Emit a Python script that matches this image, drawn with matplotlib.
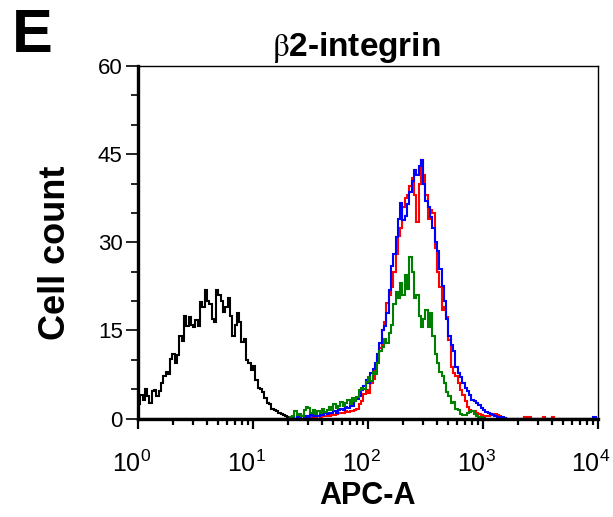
import numpy as np
import matplotlib
matplotlib.use("Agg")
import matplotlib.pyplot as plt
import matplotlib.transforms as mtransforms
from matplotlib.ticker import MultipleLocator, LogLocator, NullFormatter

plt.rcParams['font.family'] = ['Liberation Sans', 'DejaVu Sans']
plt.rcParams['mathtext.fontset'] = 'stix'

# 通道: 0.02 decade 一个 bin, 10^0 ~ 10^4
n_bins = 200
edges = np.logspace(0, 4, n_bins + 1)

# 各组计数 (从 bin 起点开始)
isotype_start = 0
isotype_counts = [2.5, 4.0, 3.2, 5.0, 3.8, 2.6, 4.6, 4.9, 3.8, 4.6,
                  6.0, 7.2, 8.0, 7.6, 10.2, 11.0, 9.5, 10.8, 14.0, 13.2,
                  17.5, 15.8, 17.2, 16.0, 15.5, 16.8, 15.8, 19.8, 19.0, 21.8,
                  20.0, 19.5, 17.0, 16.5, 21.8, 21.0, 20.0, 18.2, 19.0, 20.5,
                  17.5, 14.0, 16.0, 18.0, 16.5, 13.0, 13.5, 10.0, 9.5, 8.3,
                  9.0, 6.5, 5.2, 5.0, 4.5, 3.5, 2.6, 2.4, 1.6, 1.4,
                  1.2, 0.9, 0.8, 0.6, 0.5, 0.3, 0.1, 0.3, 0.0]

green_start = 66
green_counts = [0.3, 0.5, 1.2, 0.6, 0.8, 0.5, 1.5, 2.0, 1.8, 1.0,
                1.4, 0.8, 1.2, 0.9, 1.6, 1.1, 1.4, 2.0, 1.5, 2.4,
                1.8, 2.2, 2.8, 2.2, 2.6, 3.2, 2.4, 3.5, 3.0, 3.6,
                4.8, 5.2, 5.0, 6.2, 7.0, 6.4, 8.0, 7.5, 9.5, 11.5,
                12.2, 13.5, 12.8, 14.5, 16.0, 19.5, 21.5, 20.5, 23.0, 21.0,
                24.5, 22.0, 27.5, 25.0, 20.5, 21.0, 17.5, 15.5, 17.0, 18.5,
                15.6, 18.0, 14.0, 11.0, 9.5, 8.0, 7.2, 6.0, 4.5, 3.8,
                2.6, 2.8, 1.6, 1.4, 0.8, 0.6, 0.6, 0.9, 1.1, 1.2,
                0.8, 0.5, 0.3, 0.3, 0.1, 0.0]

red_start = 66
red_counts = [0.0, 0.1, 0.0, 0.2, 0.1, 0.0, 0.2, 0.1, 0.3, 0.2,
              0.4, 0.3, 0.4, 0.2, 0.5, 0.4, 0.6, 0.5, 0.7, 0.6,
              0.8, 0.9, 1.0, 0.9, 1.2, 1.1, 1.3, 1.2, 1.5, 1.6,
              2.4, 3.0, 4.2, 4.9, 4.3, 6.0, 6.8, 9.0, 10.5, 12.0,
              15.0, 16.5, 19.7, 21.0, 22.4, 25.0, 28.0, 31.0, 32.5, 36.0,
              37.5, 38.0, 39.5, 41.0, 38.0, 33.5, 40.0, 44.0, 41.5, 38.0,
              34.0, 35.5, 35.0, 29.0, 25.0, 22.4, 18.5, 19.0, 17.3, 13.4,
              8.8, 7.7, 7.2, 6.0, 4.9, 4.0, 3.0, 2.0, 1.4, 1.3,
              1.2, 1.0, 0.8, 0.6, 0.4, 0.5, 0.4, 0.6, 0.7, 0.8,
              0.6, 0.4, 0.1, 0.0, 0.0, 0.0, 0.0, 0.0, 0.0, 0.0,
              0.0, 0.0, 0.3, 0.0, 0.2, 0.0, 0.0, 0.0, 0.0, 0.0,
              0.3, 0.0, 0.0, 0.0, 0.3, 0.0]

blue_start = 66
blue_counts = [0.0, 0.2, 0.0, 0.3, 0.2, 0.4, 0.2, 0.5, 0.3, 0.6,
               0.4, 0.6, 0.5, 0.8, 0.6, 0.9, 0.7, 1.0, 0.9, 1.2,
               1.0, 1.4, 1.6, 1.4, 2.0, 1.8, 2.4, 2.2, 3.0, 3.4,
               3.8, 4.8, 5.5, 6.5, 6.0, 7.7, 8.5, 9.4, 11.0, 12.8,
               15.0, 15.8, 18.0, 21.9, 26.0, 28.0, 30.9, 34.0, 36.7, 33.8,
               34.5, 36.5, 38.5, 40.5, 42.3, 41.5, 43.0, 44.0, 40.0, 37.0,
               36.0, 34.3, 32.5, 30.0, 28.5, 25.5, 22.5, 20.0, 17.0, 14.0,
               12.5, 11.5, 8.8, 7.8, 7.0, 6.0, 5.2, 4.6, 4.0, 3.2,
               3.0, 2.6, 2.3, 1.8, 1.4, 1.1, 0.9, 0.7, 0.6, 0.4,
               0.3, 0.2, 0.3, 0.1, 0.0, 0.0, 0.0, 0.0, 0.0, 0.0,
               0.0, 0.0, 0.0, 0.0, 0.0, 0.0, 0.0, 0.0, 0.0, 0.0,
               0.0, 0.0, 0.0, 0.0, 0.0, 0.0, 0.0, 0.0, 0.0, 0.0,
               0.0, 0.0, 0.0, 0.0, 0.0, 0.0, 0.0, 0.0, 0.0, 0.0,
               0.0, 0.0, 0.3]


def full(start, vals):
    c = np.zeros(n_bins)
    c[start:start + len(vals)] = vals
    return c


fig = plt.figure(figsize=(6.13, 5.17), dpi=100)
ax = fig.add_axes([0.2251, 0.1905, 0.7504, 0.6818])

lw = 1.5
ax.stairs(full(isotype_start, isotype_counts), edges, color='black', lw=lw)
ax.stairs(full(red_start, red_counts), edges, color='#ff0000', lw=lw)
ax.stairs(full(blue_start, blue_counts), edges, color='#0000ff', lw=lw)
ax.stairs(full(green_start, green_counts), edges, color='#008000', lw=lw)

ax.set_xscale('log')
ax.set_xlim(1, 1e4)
ax.set_ylim(0, 60)
ax.yaxis.set_major_locator(MultipleLocator(15))
ax.yaxis.set_minor_locator(MultipleLocator(5))
ax.xaxis.set_major_locator(LogLocator(base=10, numticks=10))
ax.xaxis.set_minor_locator(LogLocator(base=10, subs=np.arange(2, 10), numticks=20))
ax.xaxis.set_minor_formatter(NullFormatter())

ax.spines['left'].set_linewidth(2.4)
ax.spines['bottom'].set_linewidth(2.4)
ax.spines['top'].set_linewidth(1.0)
ax.spines['right'].set_linewidth(1.0)

ax.tick_params(axis='y', which='major', direction='out', length=9, width=1.2, labelsize=16, pad=2)
ax.tick_params(axis='y', which='minor', direction='out', length=5, width=1.2)
ax.tick_params(axis='x', which='major', direction='out', length=7, width=1.6, labelsize=18, pad=16)
ax.tick_params(axis='x', which='minor', direction='out', length=4, width=1.6)

# x 刻度文字略微左移
shift = mtransforms.ScaledTranslation(-5 / 72, 0, fig.dpi_scale_trans)
for lab in ax.get_xticklabels():
    lab.set_transform(lab.get_transform() + shift)

ax.set_xlabel('APC-A', fontsize=22, fontweight='bold', labelpad=3)
ax.set_ylabel('Cell count', fontsize=26, fontweight='bold')
ax.yaxis.set_label_coords(-0.142, 0.47)
ax.set_title(r'$\mathrm{\beta}$2-integrin', fontsize=24, fontweight='bold', pad=7, x=0.475)

fig.text(0.02, 0.985, 'E', fontsize=44, fontweight='bold', va='top', ha='left')

fig.savefig('out.png', dpi=100)
